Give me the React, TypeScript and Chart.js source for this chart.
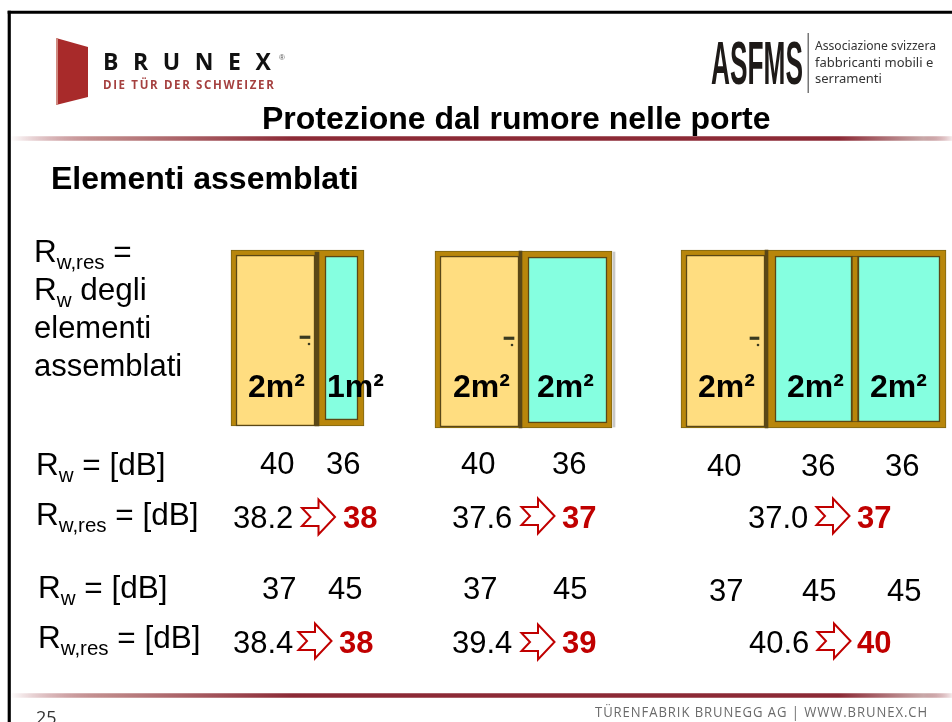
import React, { useEffect, useRef } from "react";
import { Chart, registerables } from "chart.js";

Chart.register(...registerables);

// ---- values ----
const slideTitle = "Protezione dal rumore nelle porte";
const sectionTitle = "Elementi assemblati";
const areaLabels = [["2m²", "1m²"], ["2m²", "2m²"], ["2m²", "2m²", "2m²"]];
const rwFirst = [[40, 36], [40, 36], [40, 36, 36]];
const rwResFirst = ["38.2", "37.6", "37.0"];
const roundedFirst = [38, 37, 37];
const rwSecond = [[37, 45], [37, 45], [37, 45, 45]];
const rwResSecond = ["38.4", "39.4", "40.6"];
const roundedSecond = [38, 39, 40];
const definitionLines = ["degli", "elementi", "assemblati"];
const associationLines = ["Associazione svizzera", "fabbricanti mobili e", "serramenti"];
const footerText = "TÜRENFABRIK BRUNEGG AG | WWW.BRUNEX.CH";
const pageNumber = "25";

// ---- layout, in slide pixels ----
const GOLD = "#B8860B", EDGE = "#7D6414", DARK = "#5A4716", DOOR = "#FFDD80", GLASS = "#85FFE0", RED = "#C00000";
const SANS = '"Liberation Sans", Arial, sans-serif';
type R = [number, number, number, number, string, string?, number?];
const rects: R[] = [
  // door A
  [231, 364, 250, 426, GOLD, EDGE, 1], [236, 315, 255, 426, DOOR, DARK, 1.5], [315, 319, 252, 426, DARK], [325, 358, 256, 420, GLASS, DARK, 1.5],
  // door B
  [613, 615, 252, 427, "#C8C8C8"],
  [435, 612, 251, 428, GOLD, EDGE, 1], [440, 519, 256, 427, DOOR, DARK, 1.5], [519, 522, 251, 428, DARK], [528, 607, 257, 423, GLASS, DARK, 1.5],
  // door C
  [681, 946, 250, 428, GOLD, EDGE, 1], [686, 765, 255, 427, DOOR, DARK, 1.5], [765, 768, 250, 428, DARK], [775, 852, 256, 422, GLASS, DARK, 1.5], [858, 940, 256, 422, GLASS, DARK, 1.5], [852, 858, 256, 422, GOLD, DARK, 1],
  // handles
  [300, 310, 336, 338.5, "#3A3A20"], [504, 514, 337, 339.5, "#3A3A20"], [750, 759, 337, 339.5, "#3A3A20"],
  // slide border
  [8, 952, 11, 13.5, "#000000"], [8, 10.5, 11, 722, "#000000"],
];
const handleDots = [{ x: 309, y: 344 }, { x: 512, y: 345 }, { x: 758, y: 345 }];
const ruleBands = [[138.5, 4], [695.5, 4]];
const areaX = [[248, 327], [453, 537], [698, 787, 870]];
const areaY = 397;
const rwX1 = [[260, 326], [461, 552], [707, 801, 885]];
const rwY1 = [474, 474, 476];
const rwX2 = [[262, 328], [463, 553], [709, 802, 887]];
const rwY2 = [599, 599, 601];
const resX1 = [233, 452, 748], arrowX1 = [318.5, 538, 833], finalX1 = [343, 562, 857];
const resX2 = [233, 452, 749], arrowX2 = [315, 538, 834], finalX2 = [339, 562, 857];
const resY1 = 528, resY2 = 653;
const arrowY1 = [517, 516, 516], arrowY2 = [641, 642, 641];
const arrowShape = [[16.5, 0], [0, -17.5], [0, -9], [-16.5, -9], [-8, 0], [-16.5, 9], [0, 9], [0, 17.5]];
const doorLogo = [[56, 38], [88, 47], [88, 97], [56, 105]];

type Run = { t: string; size?: number; dy?: number; bold?: boolean };

const textPlugin = {
  id: "slideText",
  afterDatasetsDraw(chart: any) {
    const { ctx, scales } = chart;
    const px = (v: number) => scales.x.getPixelForValue(v);
    const py = (v: number) => scales.y.getPixelForValue(v);
    const text = (t: string, x: number, y: number, font: string, color = "#000", opts: { maxW?: number; ls?: string; fitW?: number } = {}) => {
      ctx.save();
      ctx.font = font;
      ctx.fillStyle = color;
      ctx.textBaseline = "alphabetic";
      ctx.textAlign = "left";
      (ctx as any).letterSpacing = opts.ls ?? "0px";
      if (opts.fitW) {
        ctx.translate(px(x), py(y));
        ctx.scale(opts.fitW / ctx.measureText(t).width, 1);
        ctx.fillText(t, 0, 0);
      } else if (opts.maxW) ctx.fillText(t, px(x), py(y), opts.maxW);
      else ctx.fillText(t, px(x), py(y));
      ctx.restore();
    };
    const runs = (x: number, y: number, items: Run[]) => {
      let cx = x;
      for (const r of items) {
        const f = `${r.size ?? 31.5}px ${SANS}`;
        text(r.t, cx, y + (r.dy ?? 0), f);
        ctx.save();
        ctx.font = f;
        cx += ctx.measureText(r.t).width;
        ctx.restore();
      }
    };
    const body = `31px ${SANS}`;
    const boldBody = `bold 31px ${SANS}`;

    // logos
    ctx.save();
    ctx.beginPath();
    doorLogo.forEach(([x, y], i) => (i ? ctx.lineTo(px(x), py(y)) : ctx.moveTo(px(x), py(y))));
    ctx.closePath();
    ctx.fillStyle = "#A82A2A";
    ctx.fill();
    ctx.fillStyle = "#D08A80";
    ctx.fillRect(px(56), py(38), 2, 67);
    ctx.restore();
    text("BRUNEX", 103, 70, `bold 23px "Open Sans", ${SANS}`, "#111", { ls: "14.6px" });
    text("®", 279, 60, `8px ${SANS}`, "#555");
    text("DIE TÜR DER SCHWEIZER", 103, 89, `bold 11.5px "Open Sans", ${SANS}`, "#A5403F", { ls: "1.65px" });
    text("ASFMS", 711, 84, `bold 61px ${SANS}`, "#1E1A18", { fitW: 92 });
    ctx.fillStyle = "#777";
    ctx.fillRect(px(807.5), py(33), 1.5, 60);
    associationLines.forEach((l, i) => text(l, 815, 50 + i * 16.5, `13px "Noto Sans", ${SANS}`, "#333", { maxW: 121 }));

    // titles
    text(slideTitle, 262, 129, `bold 32px ${SANS}`);
    text(sectionTitle, 51, 189, `bold 32px ${SANS}`);

    // left definition
    runs(34, 262, [{ t: "R" }, { t: "w,res", size: 20.5, dy: 7 }, { t: " =" }]);
    runs(34, 300, [{ t: "R" }, { t: "w", size: 20.5, dy: 7 }, { t: " " + definitionLines[0] }]);
    text(definitionLines[1], 34, 338, body);
    text(definitionLines[2], 34, 376, body);

    // area labels
    areaLabels.forEach((g, i) => g.forEach((l, j) => text(l, areaX[i][j], areaY, `bold 32px ${SANS}`)));

    // row labels
    const rw = (x: number, y: number) => runs(x, y, [{ t: "R" }, { t: "w", size: 20.5, dy: 7 }, { t: " = [dB]" }]);
    const rr = (x: number, y: number) => runs(x, y, [{ t: "R" }, { t: "w,res", size: 20.5, dy: 7 }, { t: " = [dB]" }]);
    rw(36, 475); rr(36, 525); rw(38, 598); rr(38, 648);

    // values
    rwFirst.forEach((g, i) => g.forEach((v, j) => text(String(v), rwX1[i][j], rwY1[i], body)));
    rwSecond.forEach((g, i) => g.forEach((v, j) => text(String(v), rwX2[i][j], rwY2[i], body)));
    const arrow = (cx: number, cy: number) => {
      ctx.save();
      ctx.beginPath();
      arrowShape.forEach(([dx, dy], i) => (i ? ctx.lineTo(px(cx + dx), py(cy + dy)) : ctx.moveTo(px(cx + dx), py(cy + dy))));
      ctx.closePath();
      ctx.lineWidth = 2;
      ctx.strokeStyle = RED;
      ctx.stroke();
      ctx.restore();
    };
    rwResFirst.forEach((v, i) => {
      text(v, resX1[i], resY1, body);
      arrow(arrowX1[i], arrowY1[i]);
      text(String(roundedFirst[i]), finalX1[i], resY1, boldBody, RED);
    });
    rwResSecond.forEach((v, i) => {
      text(v, resX2[i], resY2, body);
      arrow(arrowX2[i], arrowY2[i]);
      text(String(roundedSecond[i]), finalX2[i], resY2, boldBody, RED);
    });

    // footer
    text(footerText, 595, 717, `14px "Open Sans", ${SANS}`, "#6A6A6A", { maxW: 333, ls: "1px" });
    text(pageNumber, 36, 724, `18px "Open Sans", ${SANS}`, "#333");
  },
};

export default function App() {
  const ref = useRef<HTMLCanvasElement>(null);
  useEffect(() => {
    const rectSets = rects.map(([x0, x1, y0, y1, fill, stroke, bw], i) => ({
      type: "bar" as const,
      data: [{ x: (x0 + x1) / 2, y: [y0, y1] }],
      barThickness: x1 - x0,
      backgroundColor: fill,
      borderColor: stroke ?? fill,
      borderWidth: bw ?? 0,
      borderSkipped: false,
      order: rects.length - i + 5,
    }));
    const ruleSets = ruleBands.map(([yc, h]) => ({
      type: "bar" as const,
      data: [{ x: 481, y: [yc - h / 2, yc + h / 2] }],
      barThickness: 942,
      borderWidth: 0,
      backgroundColor: (c: any) => {
        const g = c.chart.ctx.createLinearGradient(10, 0, 952, 0);
        g.addColorStop(0, "rgba(150,50,60,0)");
        g.addColorStop(0.1, "#C08A8A");
        g.addColorStop(0.3, "#8C2A36");
        g.addColorStop(0.88, "#8C2A36");
        g.addColorStop(0.97, "#C9A9A9");
        g.addColorStop(1, "rgba(150,50,60,0.1)");
        return g;
      },
      order: 3,
    }));
    const dots = {
      type: "scatter" as const,
      data: handleDots,
      pointRadius: 1.3,
      pointBackgroundColor: "#3A3A20",
      pointBorderWidth: 0,
      order: 1,
    };
    const chart = new Chart(ref.current!, {
      type: "bar",
      data: { datasets: [...rectSets, ...ruleSets, dots] as any },
      options: {
        animation: false,
        responsive: false,
        devicePixelRatio: 1,
        layout: { padding: 0, autoPadding: false },
        plugins: { legend: { display: false }, tooltip: { enabled: false }, title: { display: false } },
        scales: {
          x: { type: "linear", min: 0, max: 952, display: false, stacked: true, offset: false },
          y: { type: "linear", min: 0, max: 722, reverse: true, display: false, stacked: false },
        },
      },
      plugins: [textPlugin as any],
    });
    return () => chart.destroy();
  }, []);
  return (
    <canvas
      ref={ref}
      width={952}
      height={722}
      style={{ position: "fixed", left: 0, top: 0, width: 952, height: 722, background: "#fff" }}
    />
  );
}
